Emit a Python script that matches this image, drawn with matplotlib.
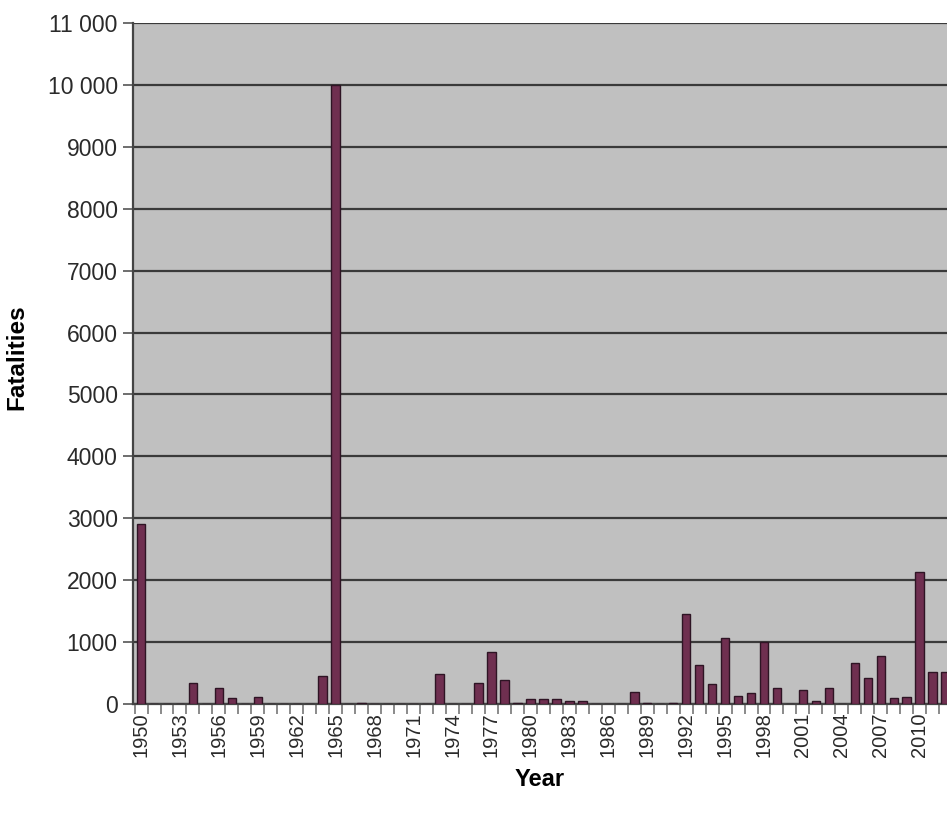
import matplotlib
matplotlib.use("Agg")
import matplotlib.pyplot as plt
from matplotlib.ticker import FixedLocator, NullFormatter

plt.rcParams["font.family"] = ["Liberation Sans", "DejaVu Sans"]

# Annual fatalities, 1950-2012
years = list(range(1950, 2013))
fatalities = [
    2900, 0, 0, 0, 340, 0, 265, 95, 0, 110,        # 1950-1959
    0, 0, 0, 0, 460, 10000, 0, 20, 0, 0,           # 1960-1969
    0, 0, 0, 485, 0, 0, 335, 845, 390, 20,         # 1970-1979
    80, 80, 80, 55, 55, 0, 0, 0, 190, 20,          # 1980-1989
    0, 20, 1450, 630, 320, 1060, 130, 170, 1005, 265,  # 1990-1999
    0, 225, 55, 265, 0, 655, 415, 775, 90, 115,    # 2000-2009
    2140, 510, 520,                                # 2010-2012
]

y_ticks = [0, 1000, 2000, 3000, 4000, 5000, 6000, 7000, 8000, 9000, 10000, 11000]
y_tick_labels = ["0", "1000", "2000", "3000", "4000", "5000", "6000",
                 "7000", "8000", "9000", "10 000", "11 000"]
label_years = list(range(1950, 2013, 3))

fig = plt.figure(figsize=(9.47, 8.13), dpi=100)
ax = fig.add_axes([133 / 947, 1 - 704 / 813, 1 - 133 / 947, (704 - 23) / 813])
ax.set_facecolor("#c0c0c0")

ax.bar(years, fatalities, width=0.66, color="#6f2f50",
       edgecolor="#2e1424", linewidth=1.0, zorder=3)

ax.set_xlim(1949.38, 2012.1)
ax.set_ylim(0, 11000)

# y axis: gridlines at every 1000
ax.set_yticks(y_ticks)
ax.set_yticklabels(y_tick_labels, fontsize=16.5, color="#2a2a2a")
ax.yaxis.grid(True, color="#3a3a3a", linewidth=1.6, zorder=1)
ax.tick_params(axis="y", direction="out", length=7, width=1.2,
               color="#555555", pad=4)

# x axis: tick marks between categories, labels every third year
ax.xaxis.set_major_locator(FixedLocator(label_years))
ax.set_xticklabels([str(y) for y in label_years], rotation=90,
                   fontsize=14.5, color="#2a2a2a")
ax.tick_params(axis="x", which="major", length=0, pad=6)
ax.xaxis.set_minor_locator(FixedLocator([y + 0.5 for y in range(1949, 2013)]))
ax.xaxis.set_minor_formatter(NullFormatter())
ax.tick_params(axis="x", which="minor", direction="out", length=7,
               width=1.2, color="#777777")

for side in ["top", "right"]:
    ax.spines[side].set_visible(False)
ax.spines["left"].set_color("#444444")
ax.spines["left"].set_linewidth(1.6)
ax.spines["bottom"].set_color("#444444")
ax.spines["bottom"].set_linewidth(1.6)

ax.set_xlabel("Year", fontsize=17, fontweight="bold", labelpad=8)
ax.set_ylabel("Fatalities", fontsize=17.5, fontweight="bold")
ax.yaxis.set_label_coords(-0.128, 0.51)

fig.savefig("out.png", dpi=100)
